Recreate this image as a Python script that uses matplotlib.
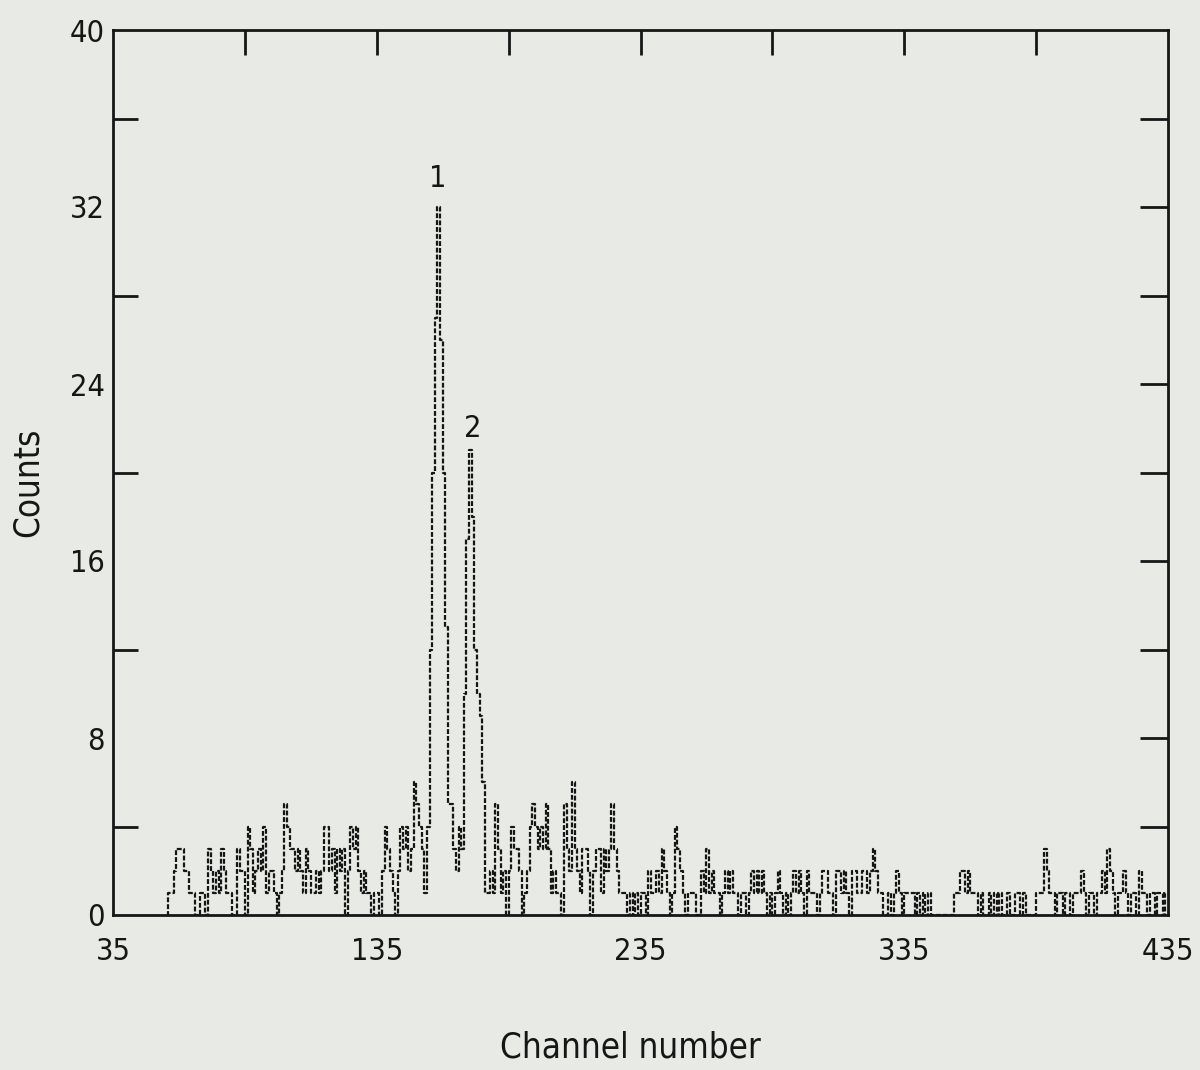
import numpy as np
import matplotlib
matplotlib.use("Agg")
import matplotlib.pyplot as plt

# ---- data (counts per channel) ----
first_channel = 55
seg_a = [0, 1, 1, 2, 3, 3, 3, 2, 2, 1,
         1, 0, 0, 1, 1, 0, 3, 2, 1, 2,
         1, 3, 2, 1, 1, 0, 0, 3, 2, 2,
         0, 4, 3, 1, 2, 3, 2, 4, 1, 2,
         2, 1, 0, 1, 2, 5, 4, 3, 3, 2,
         3, 2, 1, 3, 2, 1, 1, 2, 1, 2]            # ch 55-114
seg_b = [4, 4, 2, 3, 1, 3, 2, 3, 0, 2,
         4, 3, 4, 2, 1, 2, 1, 1, 0, 1,
         1, 0, 2, 4, 3, 2, 1, 0, 2, 4,
         3, 4, 2, 3, 6, 5, 4, 3, 1, 4]            # ch 115-154
seg_peaks = [12, 20, 27, 32, 26, 20, 13, 5, 5, 3,
             2, 4, 3, 10, 17, 21, 18, 12, 10, 9]  # ch 155-174
seg_c = [6, 1, 1, 2, 1, 5, 3, 1, 2, 0,
         2, 4, 3, 3, 2, 0, 1, 2, 4, 5,
         4, 3, 4, 3, 5, 3, 1, 2, 1, 1,
         0, 5, 3, 2, 6, 3, 2, 1, 3, 3,
         2, 0, 2, 3, 3, 1, 3, 2, 3, 5,
         3, 2, 1, 1, 1, 0, 1, 0]                  # ch 175-232
seg_d = [1, 0, 1, 1, 0, 2, 1, 1, 2, 1,
         3, 2, 1, 0, 1, 4, 3, 2, 1, 0,
         1, 1, 1, 0, 0, 2, 1, 3, 1, 2,
         1, 1, 0, 1, 2, 1, 2, 1, 1, 0,
         1, 1, 0, 1, 2, 1, 2, 1, 2, 1,
         0, 1, 0, 1, 2, 1, 0, 1, 0, 1,
         2, 1, 2, 1, 0, 2, 1, 1]                  # ch 233-300
seg_e = [1, 0, 1, 2, 2, 1, 1, 0, 2, 2,
         1, 2, 1, 0, 2, 2, 1, 1, 2, 2,
         1, 2, 3, 2, 1, 1, 0, 0, 1, 0,
         1, 2, 1, 0, 1, 1, 1, 1, 0, 1,
         0, 1, 0, 1, 0, 0, 0, 0, 0, 0,
         0, 0, 0, 1, 1, 2, 2, 1, 2, 1]            # ch 301-360
seg_f = [1, 1, 0, 1, 0, 0, 1, 0, 1, 0,
         1, 0, 0, 1, 0, 0, 1, 1, 0, 1,
         0, 0, 0, 0, 1, 1, 1, 3, 2, 1,
         1, 0, 1, 1, 0, 1, 1, 0, 1, 1,
         1, 2, 1, 0, 1, 1, 0, 1, 1, 2,
         1, 3, 2, 1, 0, 1, 1, 2, 1, 0,
         1, 1, 0, 2, 1, 1, 0, 1, 1, 0,
         1, 1, 0, 1]                              # ch 361-434

x_ticks = [35, 135, 235, 335, 435]
y_ticks = [0, 8, 16, 24, 32, 40]
top_minor = [85, 135, 185, 235, 285, 335, 385]
left_minor = [4, 12, 20, 28, 36]
right_minor = [4, 8, 12, 16, 20, 24, 28, 32, 36]
peak_labels = ["1", "2"]
peak_pos = [(158.2, 33.3), (171.5, 22.0)]

counts = np.array(seg_a + seg_b + seg_peaks + seg_c + seg_d + seg_e + seg_f)
channels = np.arange(first_channel, first_channel + len(counts))

bg = "#e8eae5"
ink = "#161616"
plt.rcParams["font.family"] = ["DejaVu Sans"]

fig = plt.figure(figsize=(12, 10.7), dpi=100, facecolor=bg)
ax = fig.add_axes([113/1200, 1 - 915/1070, (1168-113)/1200, (915-30)/1070])
ax.set_facecolor(bg)

ax.step(channels + 0.5, counts, where="mid", color=ink, lw=1.6,
        linestyle=(0, (2.2, 0.9)))

ax.set_xlim(35, 435)
ax.set_ylim(0, 40)

for s in ax.spines.values():
    s.set_linewidth(2.0)
    s.set_color(ink)

fs = dict(fontsize=22, fontstretch="condensed", fontweight="light", color=ink)
fl = dict(fontsize=25, fontstretch="condensed", fontweight="light", color=ink)
ax.set_xticks(x_ticks)
ax.set_xticklabels([str(v) for v in x_ticks], **fs)
ax.set_yticks(y_ticks)
ax.set_yticklabels([str(v) for v in y_ticks], **fs)
ax.tick_params(axis="y", which="major", length=0, pad=6)
ax.tick_params(axis="x", which="major", length=0, pad=16)

ax.set_yticks(left_minor, minor=True)
ax.tick_params(axis="y", which="minor", direction="in", length=18,
               width=2.0, color=ink, left=True, right=False)

top = ax.secondary_xaxis("top")
top.set_xticks(top_minor)
top.set_xticklabels([])
top.tick_params(direction="in", length=18, width=2.0, color=ink)
top.spines["top"].set_visible(False)

right = ax.secondary_yaxis("right")
right.set_yticks(right_minor)
right.set_yticklabels([])
right.tick_params(direction="in", length=20, width=2.0, color=ink)
right.spines["right"].set_visible(False)

for lab, (px, py) in zip(peak_labels, peak_pos):
    ax.text(px, py, lab, ha="center", va="center", **fs)

fig.text(630/1200, 1 - 1048/1070, "Channel number", ha="center", va="center", **fl)
fig.text(28/1200, 1 - 482/1070, "Counts", ha="center", va="center",
         rotation=90, **fl)

fig.savefig("out.png", dpi=100, facecolor=bg)
